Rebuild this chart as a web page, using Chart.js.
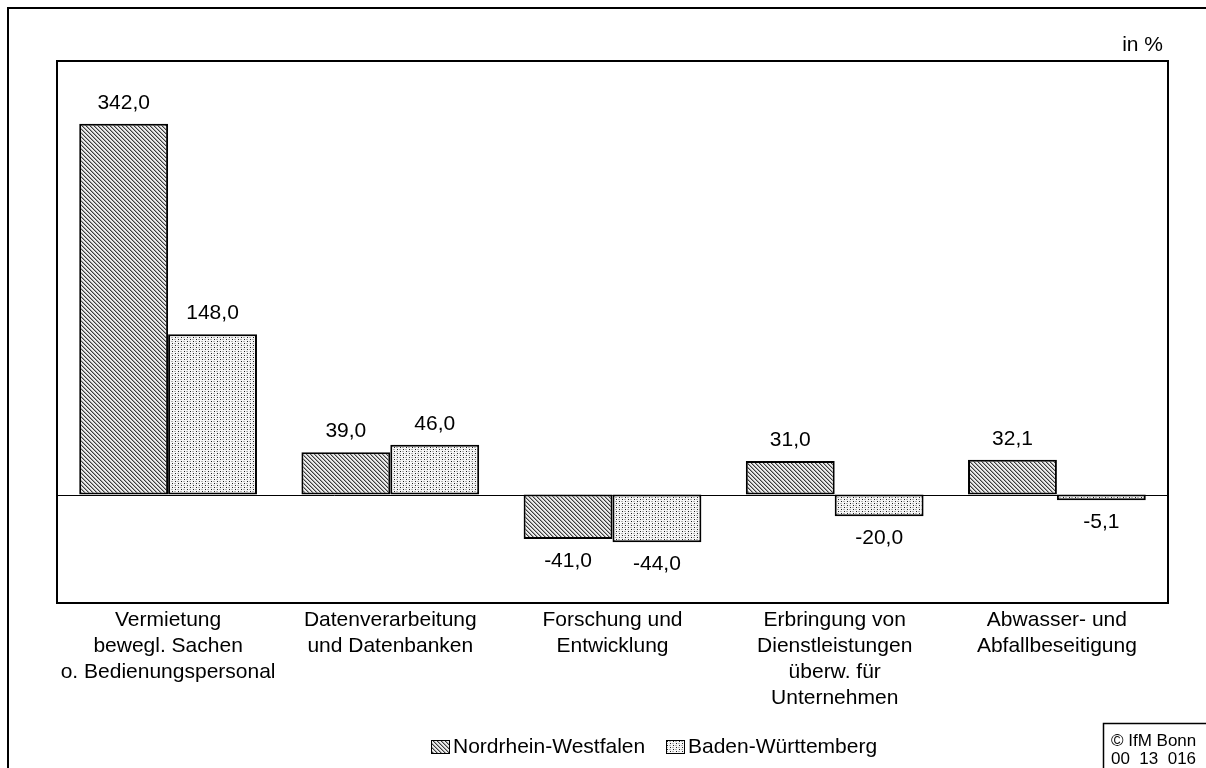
<!DOCTYPE html>
<html>
<head>
<meta charset="utf-8">
<script src="https://cdn.jsdelivr.net/npm/chart.js@4"></script>
<style>
  html, body { margin: 0; padding: 0; background: #fff; }
  #wrap { width: 1206px; height: 768px; }
</style>
</head>
<body>
<div id="wrap"><canvas id="c" width="1206" height="768"></canvas></div>
<script>
// Categories (multi-line axis labels)
const categories = [
  ['Vermietung', 'bewegl. Sachen', 'o. Bedienungspersonal'],
  ['Datenverarbeitung', 'und Datenbanken'],
  ['Forschung und', 'Entwicklung'],
  ['Erbringung von', 'Dienstleistungen', 'überw. für', 'Unternehmen'],
  ['Abwasser- und', 'Abfallbeseitigung']
];
const seriesNames = ['Nordrhein-Westfalen', 'Baden-Württemberg'];
const nrwValues = [342.0, 39.0, -41.0, 31.0, 32.1];
const bwValues = [148.0, 46.0, -44.0, -20.0, -5.1];
const axisMin = -100;
const axisMax = 400;
const unitLabel = 'in %';
const sourceLines = ['© IfM Bonn', '00  13  016'];

const FONT = "'Liberation Sans', Arial, sans-serif";

// Fill patterns: fine diagonal hatch and a dot raster
function hatchPattern() {
  const c = document.createElement('canvas');
  c.width = 4; c.height = 4;
  const g = c.getContext('2d');
  g.fillStyle = '#ececec';
  g.fillRect(0, 0, 4, 4);
  for (let y = 0; y < 4; y++) {
    for (let x = 0; x < 4; x++) {
      const d = ((x - y) % 4 + 4) % 4;
      if (d === 0) { g.fillStyle = '#3c3c3c'; g.fillRect(x, y, 1, 1); }
      else if (d === 1) { g.fillStyle = '#a4a4a4'; g.fillRect(x, y, 1, 1); }
    }
  }
  return g.createPattern(c, 'repeat');
}
function dotPattern() {
  const c = document.createElement('canvas');
  c.width = 6; c.height = 4;
  const g = c.getContext('2d');
  g.fillStyle = '#f6f6f6';
  g.fillRect(0, 0, 6, 4);
  g.fillStyle = '#1e1e1e';
  g.fillRect(1, 1, 1, 1);
  g.fillRect(4, 3, 1, 1);
  g.fillStyle = '#b4b4b4';
  g.fillRect(3, 1, 2, 1);
  g.fillRect(0, 3, 2, 1);
  return g.createPattern(c, 'repeat');
}
const fills = [hatchPattern(), dotPattern()];

const fmt = v => v.toFixed(1).replace('.', ',');

// Zero line below the bars
const zeroLine = {
  id: 'zeroLine',
  beforeDatasetsDraw(chart) {
    const { ctx, chartArea, scales } = chart;
    const y = Math.round(scales.y.getPixelForValue(0)) + 0.5;
    ctx.save();
    ctx.strokeStyle = '#000';
    ctx.lineWidth = 1;
    ctx.beginPath();
    ctx.moveTo(chartArea.left, y);
    ctx.lineTo(chartArea.right, y);
    ctx.stroke();
    ctx.restore();
  }
};

// Value labels, frames, legend and notes
const decorations = {
  id: 'decorations',
  afterDatasetsDraw(chart) {
    const { ctx } = chart;
    ctx.save();
    ctx.font = '21px ' + FONT;
    ctx.fillStyle = '#000';
    ctx.textAlign = 'center';
    ctx.textBaseline = 'middle';
    chart.data.datasets.forEach((ds, i) => {
      chart.getDatasetMeta(i).data.forEach((el, j) => {
        const v = ds.data[j];
        const y = v >= 0 ? el.y - 21 : el.y + 22;
        ctx.fillText(fmt(v), el.x, y);
      });
    });
    ctx.restore();
  },
  afterDraw(chart) {
    const { ctx, chartArea } = chart;
    ctx.save();
    // outer frame
    ctx.strokeStyle = '#000';
    ctx.lineWidth = 2;
    ctx.strokeRect(8, 8, 1300, 900);
    // plot box
    ctx.strokeRect(chartArea.left, chartArea.top, chartArea.right - chartArea.left, chartArea.bottom - chartArea.top);

    // unit
    ctx.fillStyle = '#000';
    ctx.font = '21px ' + FONT;
    ctx.textAlign = 'right';
    ctx.textBaseline = 'middle';
    ctx.fillText(unitLabel, chartArea.right - 5, 45);

    // legend
    ctx.textAlign = 'left';
    const legendItems = [{ x: 431, tx: 453 }, { x: 666, tx: 688 }];
    legendItems.forEach((it, i) => {
      ctx.fillStyle = fills[i];
      ctx.fillRect(it.x, 740, 18, 13);
      ctx.lineWidth = 1;
      ctx.strokeStyle = '#000';
      ctx.strokeRect(it.x + 0.5, 740.5, 18, 13);
      ctx.fillStyle = '#000';
      ctx.fillText(seriesNames[i], it.tx, 747);
    });

    // source box
    ctx.lineWidth = 1.5;
    ctx.strokeRect(1103.5, 723.5, 200, 100);
    ctx.font = '17px ' + FONT;
    ctx.fillText(sourceLines[0], 1111, 741);
    ctx.fillText(sourceLines[1], 1111, 759);
    ctx.restore();
  }
};

new Chart(document.getElementById('c'), {
  type: 'bar',
  data: {
    labels: categories,
    datasets: [
      { label: seriesNames[0], data: nrwValues, backgroundColor: fills[0] },
      { label: seriesNames[1], data: bwValues, backgroundColor: fills[1] }
    ]
  },
  options: {
    responsive: false,
    animation: false,
    devicePixelRatio: 1,
    layout: { padding: { left: 57, top: 61, right: 38, bottom: 0 } },
    datasets: {
      bar: {
        categoryPercentage: 0.8,
        barPercentage: 1.0,
        borderColor: '#000',
        borderWidth: 2,
        borderSkipped: false
      }
    },
    plugins: {
      legend: { display: false },
      tooltip: { enabled: false }
    },
    scales: {
      x: {
        grid: { display: false, drawTicks: false },
        border: { display: false },
        ticks: {
          color: '#000',
          font: { family: FONT, size: 21, lineHeight: 1.24 },
          padding: 4,
          maxRotation: 0,
          autoSkip: false
        },
        afterFit(scale) { scale.height = 165; }
      },
      y: {
        display: false,
        min: axisMin,
        max: axisMax
      }
    }
  },
  plugins: [zeroLine, decorations]
});
</script>
</body>
</html>
